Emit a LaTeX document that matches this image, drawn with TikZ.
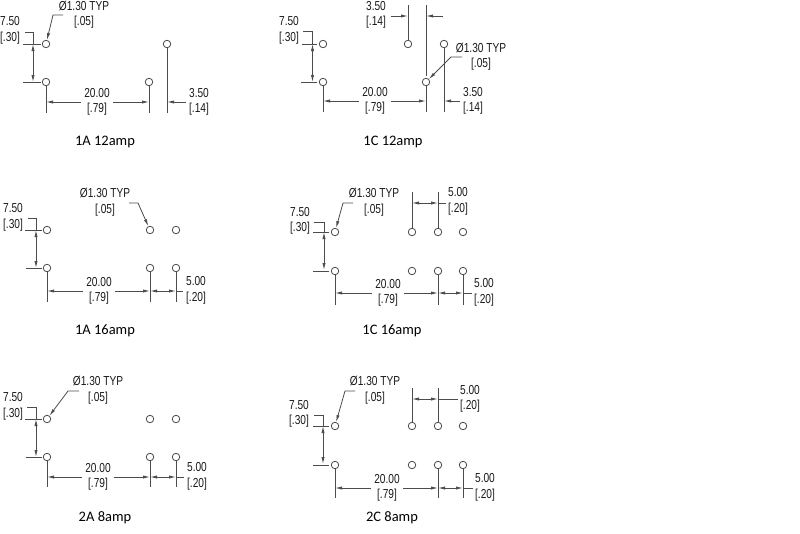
\documentclass[tikz,border=0pt]{standalone}
\usepackage{fontspec}
\usepackage{tikz}
\usetikzlibrary{arrows.meta}
\setmainfont{Carlito}
\newfontfamily\dimfont[FakeStretch=0.78]{Liberation Sans}

\begin{document}
\begin{tikzpicture}[x = 1pt, y = -1pt, line width = 0.8pt, draw = black!70, >={Latex[length = 7pt, width = 3.2pt]},
  pad/.style={circle, draw, inner sep = 0pt, minimum size = 7.5pt},
  dimtext/.style={font = \dimfont\fontsize{13}{15.5}\selectfont, align = center, inner sep = 3pt, text = black!90, execute at begin node = \rule{0pt}{13pt}},
  caption/.style={font = \fontsize{14.5}{16}\selectfont, text = black, yshift = -1.5pt}]
  \useasboundingbox (0,0) rectangle (800,533);

  % 1A 12amp nodes
  \node [pad] (a1) at (46,44) {};
  \node [pad] (a2) at (46,82) {};
  \node [pad] (a3) at (149,82) {};
  \node [pad] (a4) at (167,44) {};
  \node [dimtext] (apitch) at (10,30.5) {7.50\\{[.30]}};
  \node [dimtext] (atyp) at (84,14.5) {Ø1.30 TYP\\{[.05]}};
  \node [dimtext] (along) at (97,102) {20.00\\{[.79]}};
  \node [dimtext] (ashift) at (199,102) {3.50\\{[.14]}};
  \node [caption] (atitle) at (105,140) {1A 12amp};
  \coordinate (au1) at (25,32); \coordinate (au2) at (33,32); \coordinate (au3) at (33,44); \coordinate (au4) at (33,82);
  \coordinate (ah1) at (23,44); \coordinate (ah2) at (41,44); \coordinate (ah3) at (23,82); \coordinate (ah4) at (41,82);
  \coordinate (ae2) at (46,113); \coordinate (ae3) at (149,113); \coordinate (ae4) at (167,113);
  \coordinate (ad2) at (46,102); \coordinate (ad3) at (149,102); \coordinate (ad4) at (167,102);
  \coordinate (al1) at (63,15); \coordinate (al2) at (53,15);

  % 1A 12amp edges
  \draw (au1) -- (au2) -- (au3);
  \draw (ah1) -- (ah2);
  \draw (ah3) -- (ah4);
  \draw [<->] (au3) -- (au4);
  \draw (a2) -- (ae2);
  \draw (a3) -- (ae3);
  \draw (a4) -- (ae4);
  \draw [->] (along) -- (ad2);
  \draw [->] (along) -- (ad3);
  \draw [->] (ashift) -- (ad4);
  \draw [->] (al1) -- (al2) -- (a1);

  % 1C 12amp nodes
  \node [pad] (b1) at (323,44) {};
  \node [pad] (b2) at (323,82) {};
  \node [pad] (b3) at (408,44) {};
  \node [pad] (b4) at (426,82) {};
  \node [pad] (b5) at (444,44) {};
  \node [dimtext] (bpitch) at (289,30.5) {7.50\\{[.30]}};
  \node [dimtext] (btyp) at (481,56.5) {Ø1.30 TYP\\{[.05]}};
  \node [dimtext] (blong) at (375,101) {20.00\\{[.79]}};
  \node [dimtext] (bshift) at (473,101) {3.50\\{[.14]}};
  \node [dimtext] (bgap) at (376,15) {3.50\\{[.14]}};
  \node [caption] (btitle) at (393,140) {1C 12amp};
  \coordinate (bu1) at (303,31); \coordinate (bu2) at (312.5,31); \coordinate (bu3) at (312.5,44); \coordinate (bu4) at (312.5,82);
  \coordinate (bh1) at (302,44); \coordinate (bh2) at (317,44); \coordinate (bh3) at (301,82); \coordinate (bh4) at (317,82);
  \coordinate (be2) at (323,112); \coordinate (be4) at (426,112); \coordinate (be5) at (444,112);
  \coordinate (bt3) at (408,5); \coordinate (bt4) at (426,5); \coordinate (bt5) at (426,76);
  \coordinate (bd2) at (323,101); \coordinate (bd4) at (426,101); \coordinate (bd5) at (444,101);
  \coordinate (bg1) at (391,16); \coordinate (bg2) at (408,16); \coordinate (bg3) at (443,16); \coordinate (bg4) at (426,16);
  \coordinate (bl1) at (462,57); \coordinate (bl2) at (451,57);

  % 1C 12amp edges
  \draw (bu1) -- (bu2) -- (bu3);
  \draw (bh1) -- (bh2);
  \draw (bh3) -- (bh4);
  \draw [<->] (bu3) -- (bu4);
  \draw (b2) -- (be2);
  \draw (b4) -- (be4);
  \draw (b5) -- (be5);
  \draw (b3) -- (bt3);
  \draw (bt4) -- (bt5);
  \draw [->] (blong) -- (bd2);
  \draw [->] (blong) -- (bd4);
  \draw [->] (bshift) -- (bd5);
  \draw [->] (bg1) -- (bg2);
  \draw [->] (bg3) -- (bg4);
  \draw [->] (bl1) -- (bl2) -- (b4);

  % 1A 16amp nodes
  \node [pad] (c1) at (47,230) {};
  \node [pad] (c2) at (47,268) {};
  \node [pad] (c3) at (150,230) {};
  \node [pad] (c4) at (150,268) {};
  \node [pad] (c5) at (176,230) {};
  \node [pad] (c6) at (176,268) {};
  \node [dimtext] (cpitch) at (13,217.5) {7.50\\{[.30]}};
  \node [dimtext] (ctyp) at (105,202) {Ø1.30 TYP\\{[.05]}};
  \node [dimtext] (clong) at (99,291) {20.00\\{[.79]}};
  \node [dimtext] (cstep) at (196,290.5) {5.00\\{[.20]}};
  \node [caption] (ctitle) at (105,329) {1A 16amp};
  \coordinate (cu1) at (28,218); \coordinate (cu2) at (36,218); \coordinate (cu3) at (36,230); \coordinate (cu4) at (36,268);
  \coordinate (ch1) at (25,230); \coordinate (ch2) at (42,230); \coordinate (ch3) at (26,268); \coordinate (ch4) at (42,268);
  \coordinate (ce2) at (47,302); \coordinate (ce4) at (150,302); \coordinate (ce6) at (176,302);
  \coordinate (cd2) at (47,291); \coordinate (cd4) at (150,291); \coordinate (cd6) at (176,291); \coordinate (cd7) at (183,291);
  \coordinate (cl1) at (138,203); \coordinate (cl2) at (129,203);

  % 1A 16amp edges
  \draw (cu1) -- (cu2) -- (cu3);
  \draw (ch1) -- (ch2);
  \draw (ch3) -- (ch4);
  \draw [<->] (cu3) -- (cu4);
  \draw (c2) -- (ce2);
  \draw (c4) -- (ce4);
  \draw (c6) -- (ce6);
  \draw [->] (clong) -- (cd2);
  \draw [->] (clong) -- (cd4);
  \draw [<->] (cd4) -- (cd6);
  \draw (cd6) -- (cd7);
  \draw [->] (cl2) -- (cl1) -- (c3);

  % 1C 16amp nodes
  \node [pad] (d1) at (335,232) {};
  \node [pad] (d2) at (335,271) {};
  \node [pad] (d3) at (412,232) {};
  \node [pad] (d4) at (412,271) {};
  \node [pad] (d5) at (438,232) {};
  \node [pad] (d6) at (438,271) {};
  \node [pad] (d7) at (463,232) {};
  \node [pad] (d8) at (463,271) {};
  \node [dimtext] (dpitch) at (300,221) {7.50\\{[.30]}};
  \node [dimtext] (dtyp) at (374,202) {Ø1.30 TYP\\{[.05]}};
  \node [dimtext] (dlong) at (388,293) {20.00\\{[.79]}};
  \node [dimtext] (dstep) at (484,292.5) {5.00\\{[.20]}};
  \node [dimtext] (dgap) at (458,201.5) {5.00\\{[.20]}};
  \node [caption] (dtitle) at (392,329) {1C 16amp};
  \coordinate (du1) at (314,222); \coordinate (du2) at (324,222); \coordinate (du3) at (324,232); \coordinate (du4) at (324,270);
  \coordinate (dh1) at (313,232); \coordinate (dh2) at (329,232); \coordinate (dh3) at (313,271); \coordinate (dh4) at (329,271);
  \coordinate (de2) at (335,305); \coordinate (de6) at (438,305); \coordinate (de8) at (463,305);
  \coordinate (dt3) at (412,192); \coordinate (dt5) at (438,192);
  \coordinate (dd2) at (335,293); \coordinate (dd6) at (438,293); \coordinate (dd8) at (463,293); \coordinate (dd9) at (472,293);
  \coordinate (dg3) at (412,203); \coordinate (dg5) at (438,203); \coordinate (dg6) at (446,203);
  \coordinate (dl1) at (353,203); \coordinate (dl2) at (343,203);

  % 1C 16amp edges
  \draw (du1) -- (du2) -- (du3);
  \draw (dh1) -- (dh2);
  \draw (dh3) -- (dh4);
  \draw [<->] (du3) -- (du4);
  \draw (d2) -- (de2);
  \draw (d6) -- (de6);
  \draw (d8) -- (de8);
  \draw (d3) -- (dt3);
  \draw (d5) -- (dt5);
  \draw [->] (dlong) -- (dd2);
  \draw [->] (dlong) -- (dd6);
  \draw [<->] (dd6) -- (dd8);
  \draw (dd8) -- (dd9);
  \draw [<->] (dg3) -- (dg5);
  \draw (dg5) -- (dg6);
  \draw [->] (dl1) -- (dl2) -- (d1);

  % 2A 8amp nodes
  \node [pad] (e1) at (47,419) {};
  \node [pad] (e2) at (47,457) {};
  \node [pad] (e3) at (150,419) {};
  \node [pad] (e4) at (150,457) {};
  \node [pad] (e5) at (176,419) {};
  \node [pad] (e6) at (176,457) {};
  \node [dimtext] (epitch) at (13,406.5) {7.50\\{[.30]}};
  \node [dimtext] (etyp) at (98,390) {Ø1.30 TYP\\{[.05]}};
  \node [dimtext] (elong) at (98,477) {20.00\\{[.79]}};
  \node [dimtext] (estep) at (197,476.5) {5.00\\{[.20]}};
  \node [caption] (etitle) at (105,516) {2A 8amp};
  \coordinate (eu1) at (27,407); \coordinate (eu2) at (36,407); \coordinate (eu3) at (36,419); \coordinate (eu4) at (36,457);
  \coordinate (eh1) at (25,419); \coordinate (eh2) at (42,419); \coordinate (eh3) at (26,457); \coordinate (eh4) at (42,457);
  \coordinate (ee2) at (47,487); \coordinate (ee4) at (150,487); \coordinate (ee6) at (176,487);
  \coordinate (ed2) at (47,477); \coordinate (ed4) at (150,477); \coordinate (ed6) at (176,477); \coordinate (ed7) at (184,477);
  \coordinate (el1) at (79,391); \coordinate (el2) at (68,391);

  % 2A 8amp edges
  \draw (eu1) -- (eu2) -- (eu3);
  \draw (eh1) -- (eh2);
  \draw (eh3) -- (eh4);
  \draw [<->] (eu3) -- (eu4);
  \draw (e2) -- (ee2);
  \draw (e4) -- (ee4);
  \draw (e6) -- (ee6);
  \draw [->] (elong) -- (ed2);
  \draw [->] (elong) -- (ed4);
  \draw [<->] (ed4) -- (ed6);
  \draw (ed6) -- (ed7);
  \draw [->] (el1) -- (el2) -- (e1);

  % 2C 8amp nodes
  \node [pad] (f1) at (335,426) {};
  \node [pad] (f2) at (335,465) {};
  \node [pad] (f3) at (412,426) {};
  \node [pad] (f4) at (412,465) {};
  \node [pad] (f5) at (438,426) {};
  \node [pad] (f6) at (438,465) {};
  \node [pad] (f7) at (463,426) {};
  \node [pad] (f8) at (463,465) {};
  \node [dimtext] (fpitch) at (299,414) {7.50\\{[.30]}};
  \node [dimtext] (ftyp) at (375,390) {Ø1.30 TYP\\{[.05]}};
  \node [dimtext] (flong) at (387,488) {20.00\\{[.79]}};
  \node [dimtext] (fstep) at (485,487.5) {5.00\\{[.20]}};
  \node [dimtext] (fgap) at (470,399) {5.00\\{[.20]}};
  \node [caption] (ftitle) at (392,516) {2C 8amp};
  \coordinate (fu1) at (314,415); \coordinate (fu2) at (323,415); \coordinate (fu3) at (323,426); \coordinate (fu4) at (323,464);
  \coordinate (fh1) at (313,426); \coordinate (fh2) at (329,426); \coordinate (fh3) at (313,465); \coordinate (fh4) at (329,465);
  \coordinate (fe2) at (335,498); \coordinate (fe6) at (438,498); \coordinate (fe8) at (463,498);
  \coordinate (ft3) at (412,388); \coordinate (ft5) at (438,388);
  \coordinate (fd2) at (335,488); \coordinate (fd6) at (438,488); \coordinate (fd8) at (463,488); \coordinate (fd9) at (473,488);
  \coordinate (fg3) at (412,399); \coordinate (fg5) at (438,399); \coordinate (fg6) at (458,399);
  \coordinate (fl1) at (355,391); \coordinate (fl2) at (345,391);

  % 2C 8amp edges
  \draw (fu1) -- (fu2) -- (fu3);
  \draw (fh1) -- (fh2);
  \draw (fh3) -- (fh4);
  \draw [<->] (fu3) -- (fu4);
  \draw (f2) -- (fe2);
  \draw (f6) -- (fe6);
  \draw (f8) -- (fe8);
  \draw (f3) -- (ft3);
  \draw (f5) -- (ft5);
  \draw [->] (flong) -- (fd2);
  \draw [->] (flong) -- (fd6);
  \draw [<->] (fd6) -- (fd8);
  \draw (fd8) -- (fd9);
  \draw [<->] (fg3) -- (fg5);
  \draw (fg5) -- (fg6);
  \draw [->] (fl1) -- (fl2) -- (f1);
\end{tikzpicture}
\end{document}
